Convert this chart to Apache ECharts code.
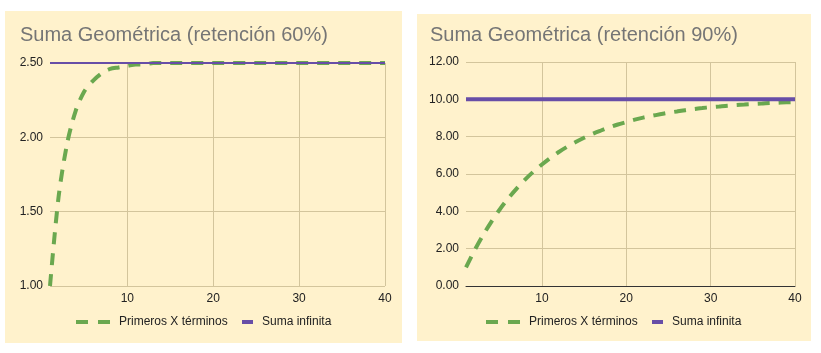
<!DOCTYPE html>
<html>
<head>
<meta charset="utf-8">
<script src="https://cdn.jsdelivr.net/npm/echarts@6/dist/echarts.min.js"></script>
<style>
  html, body { margin: 0; padding: 0; background: #ffffff; }
  body { width: 821px; height: 353px; position: relative; overflow: hidden; }
  .panel { position: absolute; background: #fff2cc; }
  #left { left: 5px; top: 11px; width: 397px; height: 332px; }
  #right { left: 417px; top: 14px; width: 394px; height: 327px; }
</style>
</head>
<body>
<div id="left" class="panel"></div>
<div id="right" class="panel"></div>
<script>
// x values (terms 1..40)
const terms = [1, 2, 3, 4, 5, 6, 7, 8, 9, 10, 11, 12, 13, 14, 15, 16, 17, 18, 19, 20,
  21, 22, 23, 24, 25, 26, 27, 28, 29, 30, 31, 32, 33, 34, 35, 36, 37, 38, 39, 40]

// retención 60%
const partial60 = [1.00, 1.60, 1.96, 2.18, 2.31, 2.38, 2.43, 2.46, 2.47, 2.48,
  2.49, 2.49, 2.50, 2.50, 2.50, 2.50, 2.50, 2.50, 2.50, 2.50,
  2.50, 2.50, 2.50, 2.50, 2.50, 2.50, 2.50, 2.50, 2.50, 2.50,
  2.50, 2.50, 2.50, 2.50, 2.50, 2.50, 2.50, 2.50, 2.50, 2.50]
const infinite60 = [2.5, 2.5, 2.5, 2.5, 2.5, 2.5, 2.5, 2.5, 2.5, 2.5,
  2.5, 2.5, 2.5, 2.5, 2.5, 2.5, 2.5, 2.5, 2.5, 2.5,
  2.5, 2.5, 2.5, 2.5, 2.5, 2.5, 2.5, 2.5, 2.5, 2.5,
  2.5, 2.5, 2.5, 2.5, 2.5, 2.5, 2.5, 2.5, 2.5, 2.5]

// retención 90%
const partial90 = [1.00, 1.90, 2.71, 3.44, 4.10, 4.69, 5.22, 5.70, 6.13, 6.51,
  6.86, 7.18, 7.46, 7.71, 7.94, 8.15, 8.33, 8.50, 8.65, 8.78,
  8.91, 9.02, 9.11, 9.20, 9.28, 9.35, 9.42, 9.48, 9.53, 9.58,
  9.62, 9.66, 9.69, 9.72, 9.75, 9.77, 9.80, 9.82, 9.84, 9.85]
const infinite90 = [10, 10, 10, 10, 10, 10, 10, 10, 10, 10,
  10, 10, 10, 10, 10, 10, 10, 10, 10, 10,
  10, 10, 10, 10, 10, 10, 10, 10, 10, 10,
  10, 10, 10, 10, 10, 10, 10, 10, 10, 10]

const xLabels = ["10", "20", "30", "40"]

const FONT = 'Arial, "Liberation Sans", sans-serif'
const GRID_COLOR = "#d3c59c"
const GREEN = "#6aa84f"
const PURPLE = "#674ea7"

function buildOption(cfg) {
  const isLabel = (i) => xLabels.indexOf(String(terms[i])) !== -1
  return {
    backgroundColor: "transparent",
    animation: false,
    title: {
      text: cfg.title,
      left: cfg.titleLeft,
      top: cfg.titleTop,
      padding: 0,
      textStyle: { color: "#757575", fontSize: 20, fontWeight: "normal", fontFamily: FONT },
    },
    legend: [
      {
        data: ["Primeros X términos"],
        left: cfg.legend1Left,
        top: cfg.legendTop,
        itemWidth: 34,
        itemHeight: 4,
        padding: 0,
        itemStyle: { opacity: 0 },
        lineStyle: { width: 4, color: GREEN, type: [12, 10] },
        textStyle: { color: "#222222", fontSize: 12, fontFamily: FONT, padding: [0, 0, 0, 4] },
      },
      {
        data: ["Suma infinita"],
        left: cfg.legend2Left,
        top: cfg.legendTop,
        icon: "rect",
        itemWidth: 11,
        itemHeight: 4,
        padding: 0,
        itemStyle: { color: PURPLE },
        textStyle: { color: "#222222", fontSize: 12, fontFamily: FONT, padding: [0, 0, 0, 4] },
      },
    ],
    grid: cfg.grid,
    xAxis: {
      type: "category",
      data: terms,
      boundaryGap: false,
      axisLine: { show: cfg.showAxisLine, lineStyle: { color: "#333333", width: 1 } },
      axisTick: { show: false },
      axisLabel: {
        interval: (i) => isLabel(i),
        color: "#222222",
        fontSize: 12,
        fontFamily: FONT,
        margin: 7,
      },
      splitLine: {
        show: true,
        interval: (i) => isLabel(i),
        lineStyle: { color: GRID_COLOR, width: 1 },
      },
    },
    yAxis: {
      type: "value",
      min: cfg.yMin,
      max: cfg.yMax,
      interval: cfg.yInterval,
      axisLine: { show: false },
      axisTick: { show: false },
      axisLabel: {
        color: "#222222",
        fontSize: 12,
        fontFamily: FONT,
        margin: 7,
        formatter: (v) => v.toFixed(2),
      },
      splitLine: { show: true, lineStyle: { color: GRID_COLOR, width: 1 } },
    },
    series: [
      {
        name: "Primeros X términos",
        type: "line",
        data: cfg.partial,
        symbol: "none",
        smooth: 0.3,
        z: 2,
        lineStyle: { color: GREEN, width: 4, type: [12, 9] },
        itemStyle: { color: GREEN },
      },
      {
        name: "Suma infinita",
        type: "line",
        data: cfg.infinite,
        symbol: "none",
        z: 3,
        lineStyle: { color: PURPLE, width: cfg.purpleWidth },
        itemStyle: { color: PURPLE },
      },
    ],
  }
}

const leftChart = echarts.init(document.getElementById("left"))
leftChart.setOption(buildOption({
  title: "Suma Geométrica (retención 60%)",
  titleLeft: 15,
  titleTop: 14,
  legendTop: 305,
  legend1Left: 69,
  legend2Left: 237,
  grid: { left: 45, right: 17, top: 52, bottom: 57 },
  showAxisLine: false,
  yMin: 1,
  yMax: 2.5,
  yInterval: 0.5,
  partial: partial60,
  infinite: infinite60,
  purpleWidth: 2,
}))

const rightChart = echarts.init(document.getElementById("right"))
rightChart.setOption(buildOption({
  title: "Suma Geométrica (retención 90%)",
  titleLeft: 13,
  titleTop: 11,
  legendTop: 302,
  legend1Left: 67,
  legend2Left: 235,
  grid: { left: 49, right: 16, top: 48, bottom: 55 },
  showAxisLine: true,
  yMin: 0,
  yMax: 12,
  yInterval: 2,
  partial: partial90,
  infinite: infinite90,
  purpleWidth: 4,
}))
</script>
</body>
</html>
